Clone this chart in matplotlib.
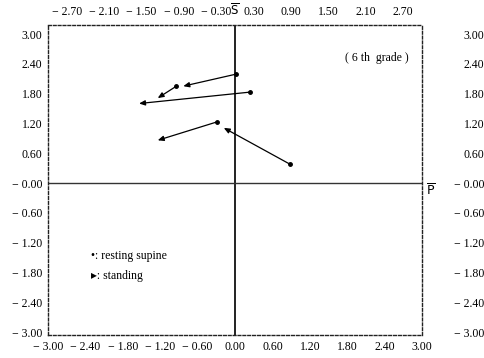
import matplotlib
matplotlib.use("Agg")
import matplotlib.pyplot as plt
import matplotlib.transforms as mtransforms

plt.rcParams['font.family'] = ['Liberation Serif', 'DejaVu Serif', 'DejaVu Sans']

# arrows: resting supine (start) -> standing (end)
x_start = [0.01, -0.94, 0.24, -0.29, 0.88]
y_start = [2.19, 1.95, 1.83, 1.23, 0.38]
x_end = [-0.83, -1.24, -1.54, -1.24, -0.18]
y_end = [1.95, 1.71, 1.60, 0.86, 1.11]

y_ticks = [3.0, 2.4, 1.8, 1.2, 0.6, 0.0, -0.6, -1.2, -1.8, -2.4, -3.0]
x_ticks = [-3.0, -2.4, -1.8, -1.2, -0.6, 0.0, 0.6, 1.2, 1.8, 2.4, 3.0]
top_ticks = [-2.7, -2.1, -1.5, -0.9, -0.3, 0.0, 0.3, 0.9, 1.5, 2.1, 2.7]

FS = 8.5


def fmt(v):
    if v < 0:
        return "− %.2f" % abs(v)
    return "%.2f" % v


fig = plt.figure(figsize=(4.84, 3.58), dpi=100, facecolor="white")
ax = fig.add_axes([0.0992, 0.0642, 0.7727, 0.8658])
ax.set_xlim(-3.0, 3.0)
ax.set_ylim(-3.06, 3.18)

for s in ax.spines.values():
    s.set_linestyle((0, (2, 1.5)))
    s.set_linewidth(1.0)
    s.set_color("#222")

# axis cross lines
ax.axvline(0, color="#222", linewidth=1.4)
ax.axhline(0, color="#333", linewidth=1.0)

# left / bottom ticks
ax.set_yticks(y_ticks)
ax.set_yticklabels(["− 0.00" if v == 0 else fmt(v) for v in y_ticks], fontsize=FS)
ax.set_xticks(x_ticks)
ax.set_xticklabels([fmt(v) for v in x_ticks], fontsize=FS)
ax.tick_params(axis="both", length=0, pad=4)

# top axis
axt = ax.twiny()
axt.set_xlim(ax.get_xlim())
axt.set_xticks(top_ticks)
axt.set_xticklabels([r"$\overline{\mathrm{S}}$" if v == 0 else fmt(v) for v in top_ticks],
                    fontsize=FS)
axt.tick_params(axis="x", length=0, pad=5)
for s in axt.spines.values():
    s.set_visible(False)

# right axis
axr = ax.twinx()
axr.set_ylim(ax.get_ylim())
axr.set_yticks(y_ticks)
axr.set_yticklabels(["− 0.00" if v == 0 else fmt(v) for v in y_ticks], fontsize=FS)
axr.tick_params(axis="y", length=0, pad=45)
for lab in axr.get_yticklabels():
    lab.set_ha("right")
for s in axr.spines.values():
    s.set_visible(False)

# arrows
for xs, ys, xe, ye in zip(x_start, y_start, x_end, y_end):
    ax.annotate("", xy=(xe, ye), xytext=(xs, ys),
                arrowprops=dict(arrowstyle="-|>,head_length=0.35,head_width=0.15",
                                color="black", linewidth=0.9,
                                shrinkA=0, shrinkB=0))
ax.plot(x_start, y_start, "o", color="black", markersize=2.5, linestyle="none")

# P-bar label at the right end of the horizontal axis
trans = mtransforms.blended_transform_factory(ax.transAxes, ax.transData)
ax.text(1.012, 0.0, r"$\overline{\mathrm{P}}$", transform=trans, fontsize=9,
        ha="left", va="top", clip_on=False)

ax.text(0.965, 0.895, "( 6 th  grade )", transform=ax.transAxes,
        fontsize=FS, ha="right", va="center")

# legend
ax.text(0.115, 0.255, "•: resting supine", transform=ax.transAxes,
        fontsize=FS, ha="left", va="center",
        family=['Liberation Serif', 'DejaVu Sans'])
ax.text(0.115, 0.19, "▸: standing", transform=ax.transAxes,
        fontsize=FS, ha="left", va="center",
        family=['Liberation Serif', 'DejaVu Sans'])

fig.savefig("out.png", dpi=100, facecolor="white")
